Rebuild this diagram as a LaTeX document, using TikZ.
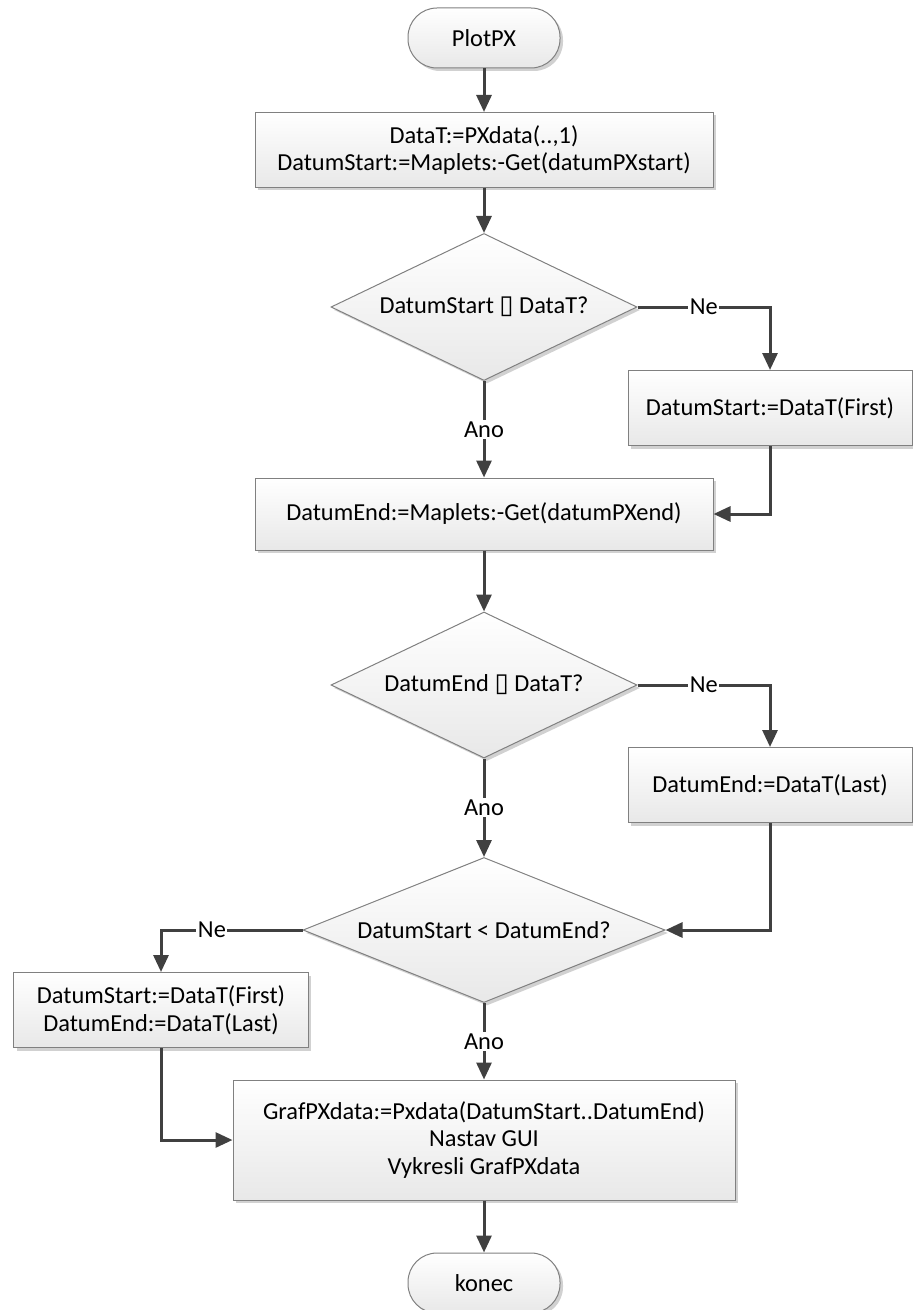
\documentclass[tikz,border=0pt]{standalone}
\usepackage{fontspec}
\setmainfont{Carlito}
\newfontfamily\boxfont{DejaVu Sans}
\usetikzlibrary{shapes.geometric,arrows.meta,shadows}

\begin{document}
\begin{tikzpicture}[
     x = 1bp, y = -1bp, % pixel-like units
     > = {Triangle[length=17bp,width=15bp]}, % arrow head style
     font = \fontsize{24.5}{28}\selectfont,
     flow/.style = {draw=black!75, line width=3bp} % connector style
 ]

 \tikzstyle{shaded} = [
     draw = black!50,
     line width = 1bp,
     top color = white,
     bottom color = black!9,
     drop shadow = {shadow xshift=3bp, shadow yshift=-3bp, fill=black!18, opacity=1},
     align = center
 ]
 \tikzstyle{process} = [
     shaded,
     rectangle,
     inner sep = 0pt
 ]
 \tikzstyle{terminal} = [
     shaded,
     rectangle,
     rounded corners = 29bp,
     minimum width = 152bp,
     minimum height = 60bp
 ]
 \tikzstyle{decision} = [
     shaded,
     diamond,
     aspect = 3,
     inner sep = 0pt
 ]
 \tikzstyle{answer} = [
     fill = white,
     inner sep = 1.5bp
 ]

 \useasboundingbox (0,0) rectangle (912,1310);

 % nodes
 \node[terminal] (start) at (484,38) {PlotPX};
 \node[process, minimum width=458bp, minimum height=75bp] (init) at (484,150)
     {DataT:=PXdata(..,1)\\DatumStart:=Maplets:-Get(datumPXstart)};
 \node[decision, minimum width=306bp, minimum height=147bp] (qstart) at (484,307)
     {DatumStart {\boxfont\fontsize{26}{28}\selectfont ▯} DataT?};
 \node[process, minimum width=284bp, minimum height=75bp] (setfirst) at (770,408)
     {DatumStart:=DataT(First)};
 \node[process, minimum width=458bp, minimum height=72bp] (getend) at (484,514)
     {DatumEnd:=Maplets:-Get(datumPXend)};
 \node[decision, minimum width=306bp, minimum height=146bp] (qend) at (484,685)
     {DatumEnd {\boxfont\fontsize{26}{28}\selectfont ▯} DataT?};
 \node[process, minimum width=284bp, minimum height=75bp] (setlast) at (770,785)
     {DatumEnd:=DataT(Last)};
 \node[decision, minimum width=362bp, minimum height=145bp] (qorder) at (484,930)
     {DatumStart < DatumEnd?};
 \node[process, minimum width=294bp, minimum height=75bp] (setboth) at (161,1010)
     {DatumStart:=DataT(First)\\DatumEnd:=DataT(Last)};
 \node[process, minimum width=502bp, minimum height=120bp] (graf) at (484,1140)
     {GrafPXdata:=Pxdata(DatumStart..DatumEnd)\\Nastav GUI\\Vykresli GrafPXdata};
 \node[terminal] (stop) at (484,1283) {konec};

 % connectors
 \draw[flow, ->] (start) -- (init);
 \draw[flow, ->] (init) -- (qstart);
 \draw[flow, ->] (qstart.east) -| node[answer, pos=0.25] {Ne} (setfirst.north);
 \draw[flow, ->] (qstart) -- node[answer] {Ano} (getend);
 \draw[flow, ->] (setfirst.south) |- (getend.east);
 \draw[flow, ->] (getend) -- (qend);
 \draw[flow, ->] (qend.east) -| node[answer, pos=0.25] {Ne} (setlast.north);
 \draw[flow, ->] (qend) -- node[answer] {Ano} (qorder);
 \draw[flow, ->] (setlast.south) |- (qorder.east);
 \draw[flow, ->] (qorder.west) -| node[answer, pos=0.32] {Ne} (setboth.north);
 \draw[flow, ->] (qorder) -- node[answer] {Ano} (graf);
 \draw[flow, ->] (setboth.south) |- (graf.west);
 \draw[flow, ->] (graf) -- (stop);
\end{tikzpicture}
\end{document}
